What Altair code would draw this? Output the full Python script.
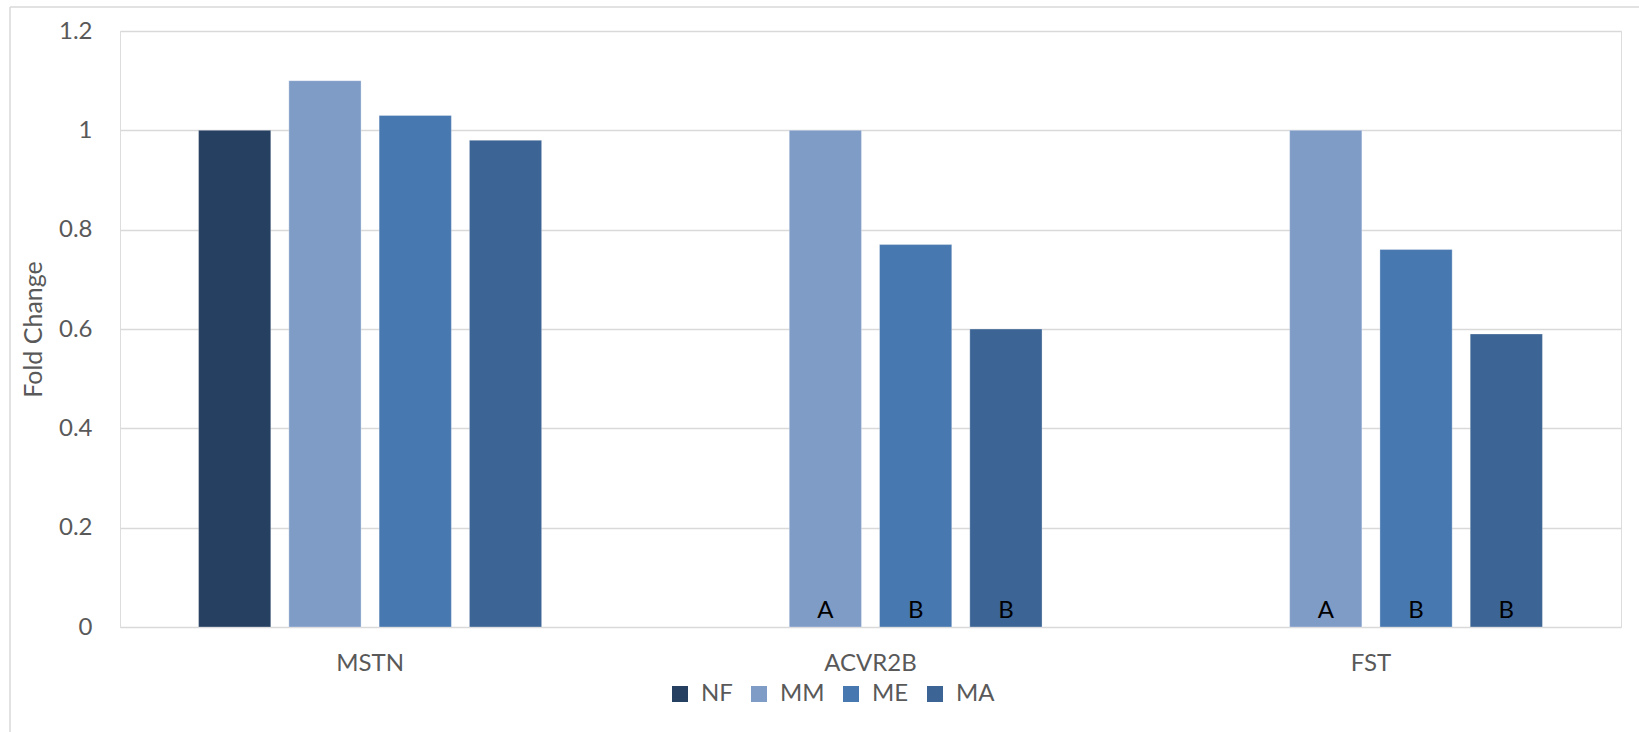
import altair as alt
import pandas as pd

genes = ["MSTN", "ACVR2B", "FST"]
groups = ["NF", "MM", "ME", "MA"]
colors = ["#264061", "#7F9CC7", "#4878B0", "#3C6494"]

gene_col = ["MSTN", "MSTN", "MSTN", "MSTN", "ACVR2B", "ACVR2B", "ACVR2B", "FST", "FST", "FST"]
group_col = ["NF", "MM", "ME", "MA", "MM", "ME", "MA", "MM", "ME", "MA"]
fold = [1.00, 1.10, 1.03, 0.98, 1.00, 0.77, 0.60, 1.00, 0.76, 0.59]
sig = ["", "", "", "", "A", "B", "B", "A", "B", "B"]

y_ticks = [0, 0.2, 0.4, 0.6, 0.8, 1.0, 1.2]

df = pd.DataFrame({"gene": gene_col, "group": group_col, "fold": fold, "sig": sig})

FONT = "Lato"
GRID = "#D9D9D9"
TXT = "#595959"

x_enc = alt.X("gene:N", sort=genes,
              scale=alt.Scale(domain=genes, paddingInner=0.3144, paddingOuter=0.157),
              axis=alt.Axis(title=None, labelAngle=0, ticks=False, domain=False,
                            labelPadding=24, labelFontSize=24, labelFont=FONT,
                            labelColor=TXT, grid=False))
xo_enc = alt.XOffset("group:N", sort=groups,
                     scale=alt.Scale(domain=groups, paddingInner=0.2, paddingOuter=0))
y_enc = alt.Y("fold:Q",
              scale=alt.Scale(domain=[0, 1.2], nice=False),
              axis=alt.Axis(values=y_ticks, format="~g", title="Fold Change",
                            titleFont=FONT, titleFontSize=25, titleFontWeight="normal",
                            titleColor=TXT, titleX=-87, titleY=298, titleAngle=-90,
                            titleAlign="center", titleBaseline="middle",
                            labelFont=FONT, labelFontSize=24, labelColor=TXT,
                            labelPadding=28, ticks=False, domain=False,
                            grid=True, gridColor=GRID, gridWidth=1.5))

bars = alt.Chart(df).mark_bar(stroke="#FFFFFF", strokeWidth=0.6, strokeOpacity=0.5).encode(
    x=x_enc,
    xOffset=xo_enc,
    y=y_enc,
    color=alt.Color("group:N", sort=groups,
                    scale=alt.Scale(domain=groups, range=colors),
                    legend=alt.Legend(title=None, orient="none", direction="horizontal",
                                      legendX=548, legendY=651,
                                      symbolType="square", symbolSize=256,
                                      symbolStrokeWidth=0, labelFont=FONT,
                                      labelFontSize=24, labelColor=TXT,
                                      labelOffset=9, columnPadding=14)),
)

labels = alt.Chart(df).transform_filter(alt.datum.sig != "").mark_text(
    baseline="alphabetic", dy=-9, fontSize=24, font=FONT, color="#000000"
).encode(
    x=alt.X("gene:N", sort=genes),
    xOffset=alt.XOffset("group:N", sort=groups),
    y=alt.Y("zero:Q"),
    text="sig:N",
).transform_calculate(zero="0")

frame_left = alt.Chart(pd.DataFrame({"a": [0]})).mark_rule(
    stroke=GRID, strokeWidth=1.5
).encode(x=alt.value(-110), y=alt.value(-24), y2=alt.value(720))
frame_top = alt.Chart(pd.DataFrame({"a": [0]})).mark_rule(
    stroke=GRID, strokeWidth=1.5
).encode(x=alt.value(-110), x2=alt.value(1519), y=alt.value(-24))

chart = alt.layer(frame_left, frame_top, bars, labels).properties(
    width=1501, height=596,
    autosize=alt.AutoSizeParams(type="none"),
    padding={"left": 120, "top": 31, "right": 18, "bottom": 105},
).configure_view(stroke=None).configure(background="white")

chart.save("out.html", embed_options={"renderer": "svg", "actions": False})
